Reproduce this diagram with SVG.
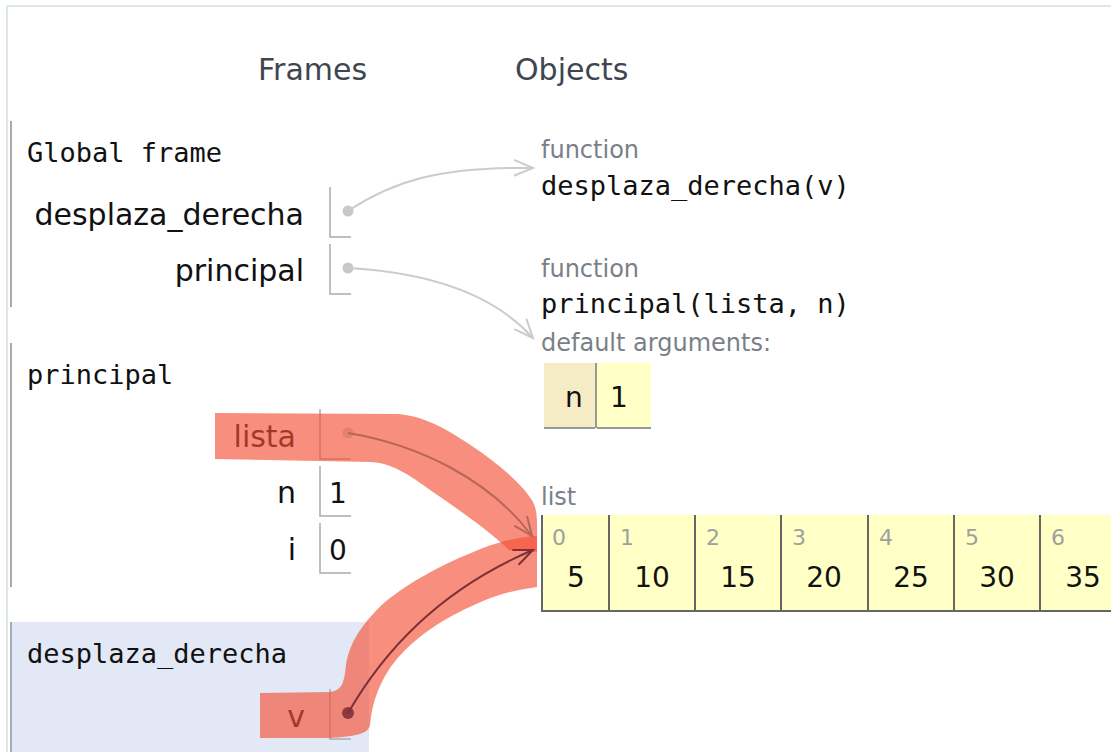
<svg xmlns="http://www.w3.org/2000/svg" width="1111" height="752" viewBox="0 0 1111 752">
  <style>
    .hdr { font-family: "DejaVu Sans", Verdana, sans-serif; font-size: 30px; fill: #3f4650; }
    .mono { font-family: "DejaVu Sans Mono", "Liberation Mono", monospace; font-size: 27px; fill: #111; }
    .var { font-family: "DejaVu Sans", Verdana, sans-serif; font-size: 30px; fill: #111; text-anchor: end; }
    .val { font-family: "DejaVu Sans", Verdana, sans-serif; font-size: 28px; fill: #111; }
    .small { font-family: "DejaVu Sans", Verdana, sans-serif; font-size: 24px; fill: #7a7f88; }
    .idx { font-family: "DejaVu Sans", Verdana, sans-serif; font-size: 22px; fill: #a0a0a0; }
    .cellv { font-family: "DejaVu Sans", Verdana, sans-serif; font-size: 28px; fill: #111; text-anchor: middle; }
    .framebar { stroke: #aaaaaa; stroke-width: 2; }
    .slot { fill: none; stroke: #aaaaaa; stroke-width: 1.5; }
    .dot { fill: #c8c8c8; }
    .ptr { fill: none; stroke: #cccccc; stroke-width: 2; }
    .hl { fill: #f44f34; opacity: 0.64; }
    .listcell { fill: #ffffc6; }
    .listline { stroke: #666; stroke-width: 2; }
  </style>
  <defs>
    <marker id="arrowGray" markerUnits="userSpaceOnUse" markerWidth="24" markerHeight="20" refX="21" refY="10" orient="auto">
      <path d="M2,2 L21,10 L2,18" fill="none" stroke="#cccccc" stroke-width="2"/>
    </marker>
    <marker id="arrowRed" markerUnits="userSpaceOnUse" markerWidth="24" markerHeight="20" refX="21" refY="10" orient="auto">
      <path d="M2,2 L21,10 L2,18" fill="none" stroke="#b9665a" stroke-width="2"/>
    </marker>
    <marker id="arrowDark" markerUnits="userSpaceOnUse" markerWidth="24" markerHeight="20" refX="21" refY="10" orient="auto">
      <path d="M2,2 L21,10 L2,18" fill="none" stroke="#7d2f35" stroke-width="2"/>
    </marker>
  </defs>

  <rect width="1111" height="752" fill="#ffffff"/>
  <!-- outer panel edges -->
  <line x1="7" y1="6" x2="1111" y2="6" stroke="#dbe7eb" stroke-width="2"/>
  <line x1="7" y1="6" x2="7" y2="752" stroke="#dbe7eb" stroke-width="2"/>

  <!-- column headers -->
  <text class="hdr" x="258" y="80">Frames</text>
  <text class="hdr" x="515" y="80">Objects</text>

  <!-- Global frame -->
  <g id="global-frame">
    <line class="framebar" x1="11" y1="121" x2="11" y2="307"/>
    <text class="mono" x="27" y="162">Global frame</text>
    <text class="var" x="304" y="225">desplaza_derecha</text>
    <path class="slot" d="M330 187 V237 H351"/>
    <circle class="dot" cx="348" cy="211" r="5.5"/>
    <text class="var" x="304" y="281">principal</text>
    <path class="slot" d="M330 244 V294 H351"/>
    <circle class="dot" cx="348" cy="268" r="5.5"/>
  </g>

  <!-- principal frame -->
  <g id="principal-frame">
    <line class="framebar" x1="11" y1="343" x2="11" y2="587"/>
    <text class="mono" x="27" y="384">principal</text>
    <text class="var" x="296" y="447">lista</text>
    <path class="slot" d="M320 409 V459 H351"/>
    <text class="var" x="296" y="503">n</text>
    <path class="slot" d="M320 466 V516 H351"/>
    <text class="val" x="329" y="503">1</text>
    <text class="var" x="296" y="560">i</text>
    <path class="slot" d="M320 523 V573 H351"/>
    <text class="val" x="329" y="560">0</text>
  </g>

  <!-- desplaza_derecha frame (active) -->
  <g id="desplaza-frame">
    <rect x="11" y="622" width="358" height="130" fill="#e2e8f5"/>
    <line class="framebar" x1="11" y1="622" x2="11" y2="752"/>
    <text class="mono" x="27" y="663">desplaza_derecha</text>
    <text class="var" x="305" y="727">v</text>
    <path class="slot" d="M330 689 V739 H351"/>
  </g>

  <!-- function objects -->
  <g id="func-desplaza">
    <text class="small" x="541" y="158">function</text>
    <text class="mono" x="541" y="195">desplaza_derecha(v)</text>
  </g>
  <g id="func-principal">
    <text class="small" x="541" y="277">function</text>
    <text class="mono" x="541" y="313">principal(lista, n)</text>
    <text class="small" x="541" y="351">default arguments:</text>
    <rect x="544" y="363" width="51" height="64" fill="#f5ebc4"/>
    <rect x="597" y="363" width="54" height="64" fill="#ffffc6"/>
    <line x1="596" y1="363" x2="596" y2="428" stroke="#999" stroke-width="2"/>
    <line x1="544" y1="428" x2="595" y2="428" stroke="#999" stroke-width="2"/>
    <line x1="597" y1="428" x2="651" y2="428" stroke="#999" stroke-width="2"/>
    <text class="val" x="565" y="407">n</text>
    <text class="val" x="610" y="407">1</text>
  </g>

  <!-- list object -->
  <g id="list-obj">
    <text class="small" x="541" y="505">list</text>
    <rect class="listcell" x="542" y="515" width="580" height="96"/>
    <line class="listline" x1="542" y1="515" x2="542" y2="612"/>
    <line class="listline" x1="542" y1="611" x2="1111" y2="611"/>
    <line class="listline" x1="609" y1="515" x2="609" y2="611"/>
    <line class="listline" x1="695" y1="515" x2="695" y2="611"/>
    <line class="listline" x1="781" y1="515" x2="781" y2="611"/>
    <line class="listline" x1="868" y1="515" x2="868" y2="611"/>
    <line class="listline" x1="954" y1="515" x2="954" y2="611"/>
    <line class="listline" x1="1040" y1="515" x2="1040" y2="611"/>
    <text class="idx" x="552" y="545">0</text>
    <text class="idx" x="620" y="545">1</text>
    <text class="idx" x="706" y="545">2</text>
    <text class="idx" x="792" y="545">3</text>
    <text class="idx" x="879" y="545">4</text>
    <text class="idx" x="965" y="545">5</text>
    <text class="idx" x="1051" y="545">6</text>
    <text class="cellv" x="576" y="587">5</text>
    <text class="cellv" x="652" y="587">10</text>
    <text class="cellv" x="738" y="587">15</text>
    <text class="cellv" x="824" y="587">20</text>
    <text class="cellv" x="911" y="587">25</text>
    <text class="cellv" x="997" y="587">30</text>
    <text class="cellv" x="1083" y="587">35</text>
  </g>

  <!-- connectors -->
  <g id="connectors">
    <path class="ptr" d="M348 211 C395 180 440 167 533 168" marker-end="url(#arrowGray)"/>
    <path class="ptr" d="M348 268 C420 272 490 290 533 338" marker-end="url(#arrowGray)"/>
  </g>

  <!-- highlight strokes over the list references -->
  <g id="highlights">
    <path class="hl" d="M215 413 L398 414 C422 416 442 426 472 446 C502 466 526 488 534 504 C538 514 537 525 537 552 L509 550 C488 530 462 512 433 492 C408 474 392 463 370 462 L215 459 Z"/>
    <path class="hl" d="M260 693 L330 692 C342 690 344 684 346 665 C349 645 360 625 385 602 C410 582 440 565 483 548 C505 540 520 537 537 536 L537 587 C515 590 500 594 483 601 C450 615 420 632 396 660 C380 680 372 702 370 725 C368 733 360 736 330 738 L260 738 Z"/>
  </g>

  <g id="list-pointers">
    <circle cx="348" cy="433" r="5.5" fill="#e4806f"/>
    <path d="M348 433 C420 445 490 480 532 536" fill="none" stroke="#b9665a" stroke-width="2" marker-end="url(#arrowRed)"/>
    <circle cx="348" cy="713" r="6" fill="#8c3a40"/>
    <path d="M348 713 C390 640 450 585 533 550" fill="none" stroke="#7d2f35" stroke-width="2" marker-end="url(#arrowDark)"/>
  </g>
</svg>
